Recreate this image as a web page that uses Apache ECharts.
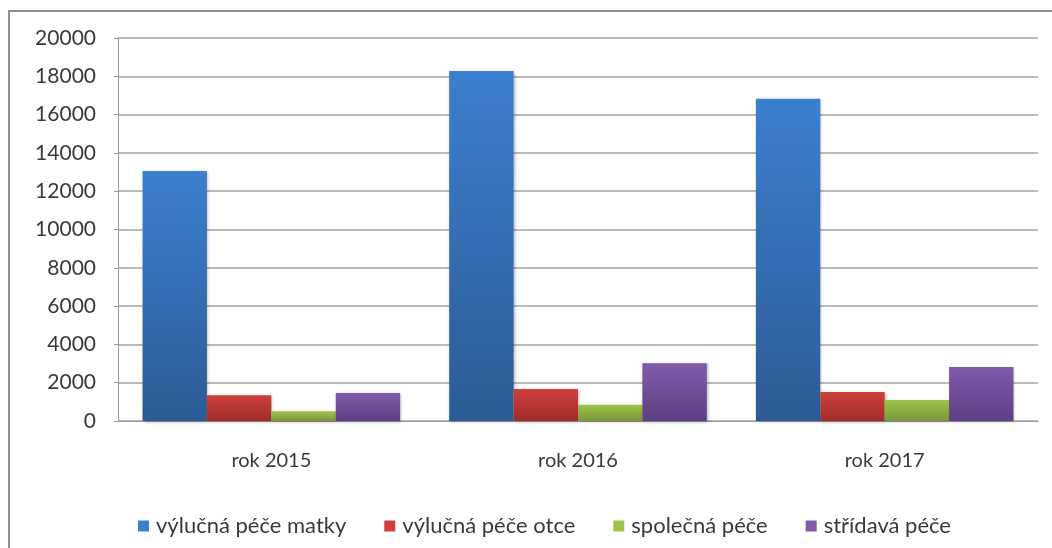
<!DOCTYPE html>
<html>
<head>
<meta charset="utf-8">
<script src="https://cdn.jsdelivr.net/npm/echarts@6/dist/echarts.min.js"></script>
<style>html,body{margin:0;padding:0;background:#fff}#c{width:1052px;height:548px}</style>
</head>
<body>
<div id="c"></div>
<script>
const categories = ['rok 2015', 'rok 2016', 'rok 2017'];
const seriesNames = ['výlučná péče matky', 'výlučná péče otce', 'společná péče', 'střídavá péče'];
const matka = [13050, 18280, 16830];
const otce = [1340, 1670, 1510];
const spolecna = [510, 850, 1100];
const stridava = [1460, 3010, 2820];
const yTicks = [0, 2000, 4000, 6000, 8000, 10000, 12000, 14000, 16000, 18000, 20000];

const colors = [
  ['#3b7fcf', '#2c5b95'],
  ['#cf403c', '#9e2d2a'],
  ['#9dc44a', '#779838'],
  ['#7f5aab', '#5d4080']
];
const dataSets = [matka, otce, spolecna, stridava];
const font = 'Lato, "DejaVu Sans", sans-serif';

const chart = echarts.init(document.getElementById('c'), null, {renderer: 'canvas'});
chart.setOption({
  animation: false,
  backgroundColor: '#fff',
  graphic: [{
    type: 'rect', silent: true,
    shape: {x: 9, y: 11, width: 1100, height: 600},
    style: {fill: 'none', stroke: '#8f8f8f', lineWidth: 2}
  }],
  grid: {left: 118, right: 14, top: 38, bottom: 127, containLabel: false},
  legend: {
    left: 133, top: 510,
    itemWidth: 11, itemHeight: 11, itemGap: 38,
    icon: 'rect',
    textStyle: {fontFamily: font, fontSize: 22, color: '#3a3a3a', padding: [0, 0, 0, 2]},
    data: seriesNames.map((n, i) => ({name: n, itemStyle: {color: colors[i][0]}}))
  },
  xAxis: {
    type: 'category', data: categories,
    axisLine: {lineStyle: {color: '#9a9a9a', width: 1}},
    axisTick: {show: false},
    axisLabel: {fontFamily: font, fontSize: 20, color: '#3a3a3a', margin: 30}
  },
  yAxis: {
    type: 'value', min: yTicks[0], max: yTicks[yTicks.length - 1], interval: 2000,
    axisLine: {show: true, lineStyle: {color: '#9a9a9a', width: 1}},
    axisTick: {show: true, length: 4, lineStyle: {color: '#9a9a9a'}},
    splitLine: {lineStyle: {color: '#a3a3a3', width: 1.5}},
    axisLabel: {fontFamily: font, fontSize: 21, color: '#3a3a3a', margin: 22,
      formatter: v => String(v)}
  },
  series: dataSets.map((d, i) => ({
    name: seriesNames[i], type: 'bar', data: d,
    barGap: '0%', barCategoryGap: '16%',
    itemStyle: {
      color: new echarts.graphic.LinearGradient(0, 0, 0, 1, [
        {offset: 0, color: colors[i][0]}, {offset: 1, color: colors[i][1]}
      ]),
      shadowBlur: 3, shadowColor: 'rgba(0,0,0,0.3)', shadowOffsetX: 1, shadowOffsetY: 1
    }
  }))
});
</script>
</body>
</html>
